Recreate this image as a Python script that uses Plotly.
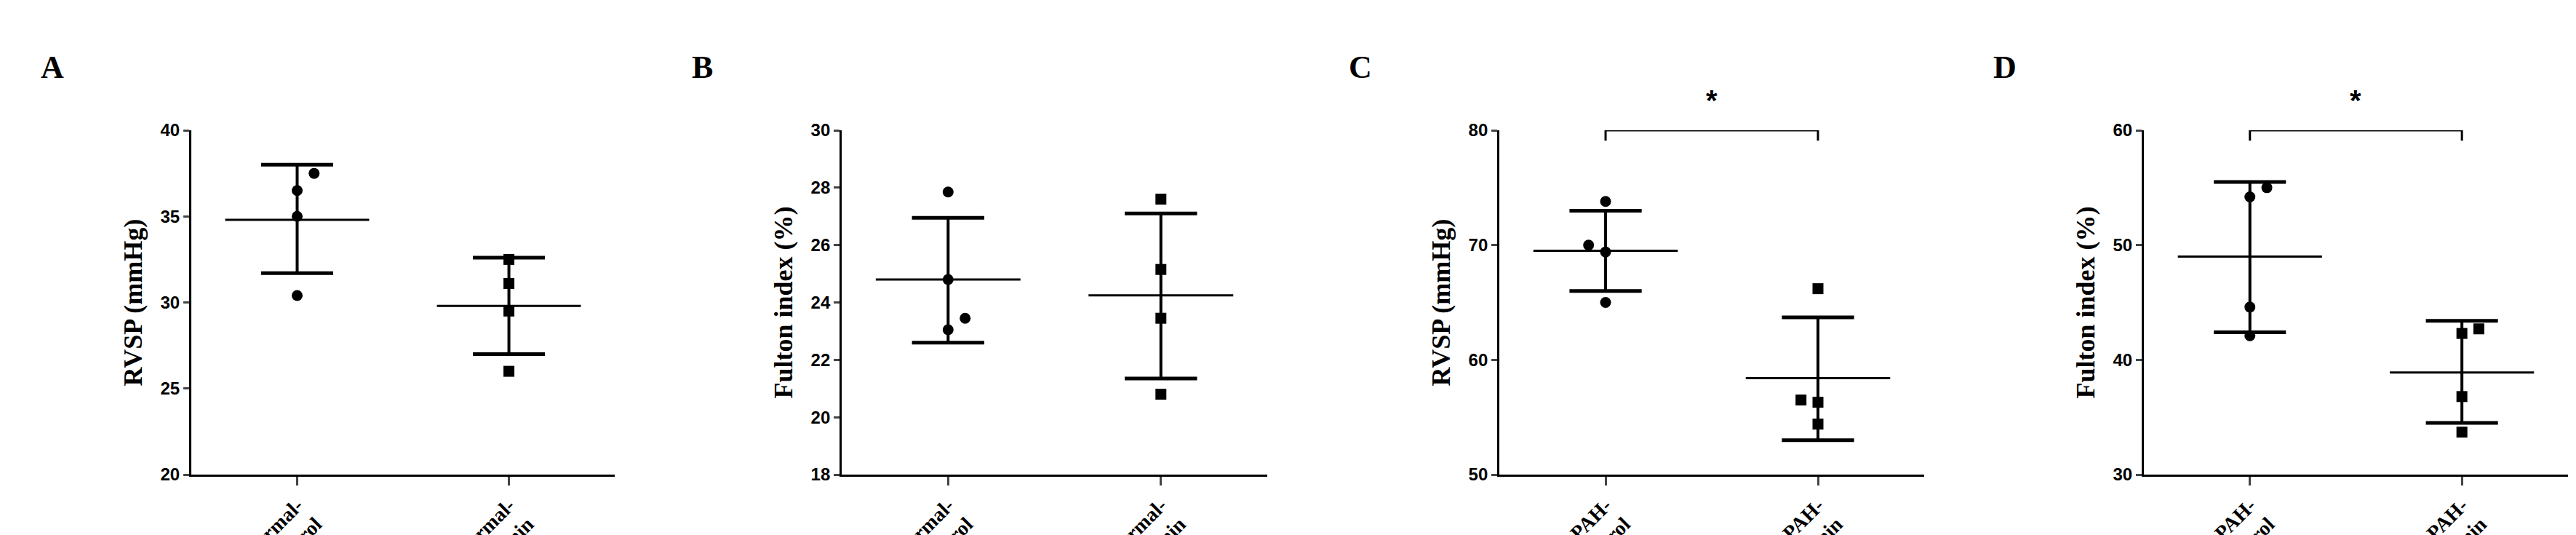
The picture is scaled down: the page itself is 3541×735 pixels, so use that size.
import plotly.graph_objects as go

panels = ["A", "B", "C", "D"]
groups_normal = ["<b>Normal-<br>Control</b>", "<b>Normal-<br>Silibinin</b>"]
groups_pah = ["<b>PAH-<br>Control</b>", "<b>PAH-<br>Silibinin</b>"]
ytitles = ["RVSP (mmHg)", "Fulton index (%)", "RVSP (mmHg)", "Fulton index (%)"]
yranges = [[20, 40], [18, 30], [50, 80], [30, 60]]
ydticks = [5, 2, 10, 10]

# individual points (control, silibinin) per panel
a_ctrl = [37.5, 36.5, 35.0, 30.4]
a_sili = [32.5, 31.1, 29.5, 26.0]
b_ctrl = [27.85, 24.8, 23.05, 23.45]
b_sili = [27.6, 25.15, 23.45, 20.8]
c_ctrl = [73.8, 70.0, 69.4, 65.0]
c_sili = [66.2, 56.5, 56.3, 54.4]
d_ctrl = [55.0, 54.2, 44.6, 42.1]
d_sili = [42.7, 42.3, 36.8, 33.7]

# horizontal jitter of points (category units)
a_jit = [[0.08, 0, 0, 0], [0, 0, 0, 0]]
b_jit = [[0, 0, 0, 0.08], [0, 0, 0, 0]]
c_jit = [[0, -0.08, 0, 0], [0, -0.08, 0, 0]]
d_jit = [[0.08, 0, 0, 0], [0.08, 0, 0, 0]]

# mean, SD upper, SD lower
a_stats = [[34.8, 38.0, 31.7], [29.8, 32.6, 27.0]]
b_stats = [[24.8, 26.95, 22.6], [24.25, 27.1, 21.35]]
c_stats = [[69.5, 73.0, 66.0], [58.4, 63.7, 53.0]]
d_stats = [[49.0, 55.5, 42.4], [38.9, 43.4, 34.5]]

sig_panels = [False, False, True, True]

points = [(a_ctrl, a_sili), (b_ctrl, b_sili), (c_ctrl, c_sili), (d_ctrl, d_sili)]
jitters = [a_jit, b_jit, c_jit, d_jit]
stats = [a_stats, b_stats, c_stats, d_stats]
cats = [groups_normal, groups_normal, groups_pah, groups_pah]

xdomains = [[0.0720, 0.2364], [0.3245, 0.4897], [0.5798, 0.7447], [0.830, 0.9946]]
ydomain = [0.1238, 0.7673]

fig = go.Figure()
for i in range(4):
    xa = "x" if i == 0 else f"x{i+1}"
    ya = "y" if i == 0 else f"y{i+1}"
    for g in range(2):
        vals = points[i][g]
        xs = [g + j for j in jitters[i][g]]
        fig.add_trace(go.Scatter(
            x=xs, y=vals, mode="markers", xaxis=xa, yaxis=ya,
            marker=dict(color="black", size=15, symbol="circle" if g == 0 else "square"),
            showlegend=False))
        m, hi, lo = stats[i][g]
        # mean line
        fig.add_trace(go.Scatter(x=[g - 0.34, g + 0.34], y=[m, m], mode="lines",
                                 xaxis=xa, yaxis=ya, line=dict(color="black", width=3),
                                 showlegend=False))
        # SD bar
        fig.add_trace(go.Scatter(x=[g, g], y=[lo, hi], mode="lines",
                                 xaxis=xa, yaxis=ya, line=dict(color="black", width=4),
                                 showlegend=False))
        for v in (lo, hi):
            fig.add_trace(go.Scatter(x=[g - 0.17, g + 0.17], y=[v, v], mode="lines",
                                     xaxis=xa, yaxis=ya, line=dict(color="black", width=5),
                                     showlegend=False))

    fig.update_layout({
        ("xaxis" if i == 0 else f"xaxis{i+1}"): dict(
            domain=xdomains[i], anchor=ya, range=[-0.5, 1.5], automargin=False,
            tickmode="array", tickvals=[0, 1], ticktext=cats[i], tickangle=-45,
            showline=True, linecolor="black", linewidth=3, ticks="outside",
            ticklen=12, tickwidth=3, showgrid=False, zeroline=False,
            tickfont=dict(family="Liberation Serif", size=28, color="black")),
        ("yaxis" if i == 0 else f"yaxis{i+1}"): dict(
            domain=ydomain, anchor=xa, range=yranges[i], dtick=ydticks[i], automargin=False,
            showline=True, linecolor="black", linewidth=3, ticks="outside",
            ticklen=8, tickwidth=3, showgrid=False, zeroline=False,
            tickprefix="<b>", ticksuffix="</b>",
            tickfont=dict(family="Liberation Sans", size=24, color="black"),
            title=dict(text="<b>" + ytitles[i] + "</b>", standoff=14,
                       font=dict(family="Liberation Serif", size=36, color="black"))),
    })
    # panel letter
    fig.add_annotation(text="<b>" + panels[i] + "</b>", xref="paper", yref="paper",
                       x=xdomains[i][0] - 0.054, y=0.885, showarrow=False,
                       xanchor="center", yanchor="middle",
                       font=dict(family="Liberation Serif", size=44, color="black"))
    if sig_panels[i]:
        top = yranges[i][1]
        tick_dn = (yranges[i][1] - yranges[i][0]) * 0.03
        fig.add_shape(type="path", xref=xa, yref=ya,
                      path=f"M 0 {top - tick_dn} L 0 {top} L 1 {top} L 1 {top - tick_dn}",
                      line=dict(color="black", width=3))
        fig.add_annotation(text="<b>*</b>", xref=xa, yref="paper", x=0.5, y=0.79,
                           showarrow=False, yanchor="bottom",
                           font=dict(family="Liberation Sans", size=40, color="black"))

fig.update_layout(width=3541, height=735, plot_bgcolor="white", paper_bgcolor="white",
                  margin=dict(l=0, r=0, t=0, b=0))
fig.write_html("out.html")
